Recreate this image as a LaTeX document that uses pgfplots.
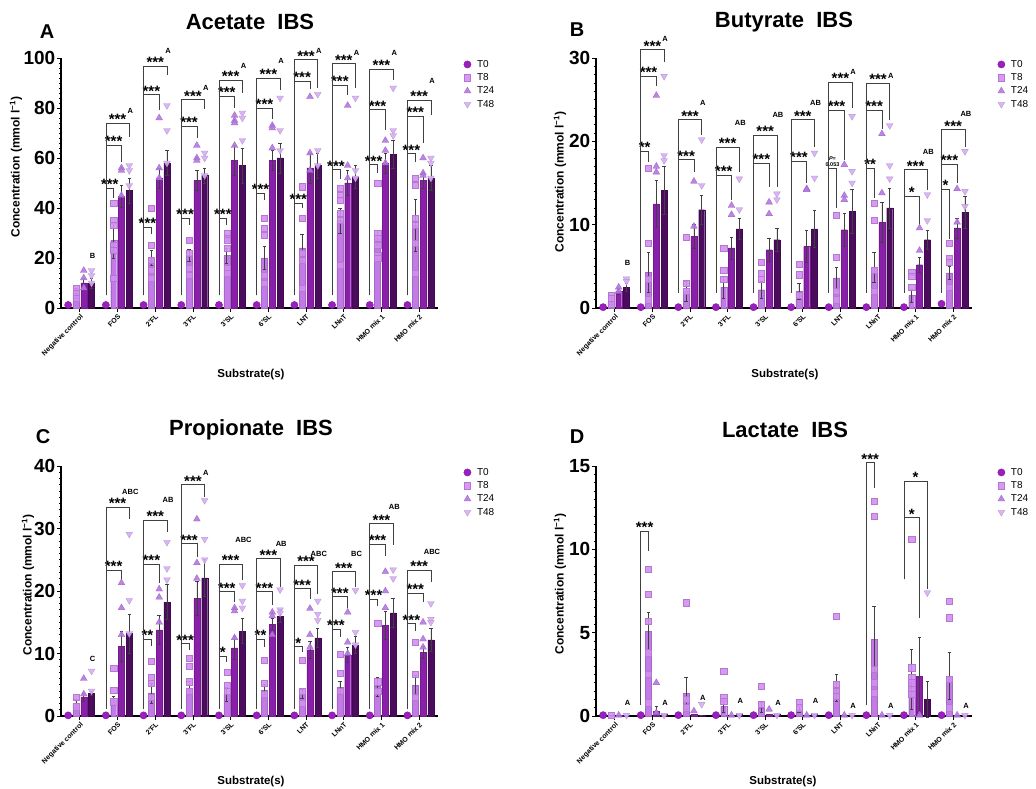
\documentclass[border=0pt]{standalone}
\usepackage{pgfplots}
\pgfplotsset{compat=1.18}
\usepackage{pgfplotstable}
\usepackage{fontspec}
\setmainfont{Liberation Sans}

\definecolor{cA}{HTML}{9C1EC0}
\definecolor{cB}{HTML}{C27AE6}
\definecolor{cC}{HTML}{8A1FAA}
\definecolor{cD}{HTML}{4C0C5E}
\definecolor{mB}{HTML}{D38EF2}
\definecolor{mC}{HTML}{B676E4}
\definecolor{mD}{HTML}{D6AEF4}

\pgfplotsset{
 panel/.style={
   scale only axis, height=250pt, anchor=south west,
   xmin=0, xmax=10, ymin=0, clip=false,
   axis x line=bottom, axis y line=left,
   x axis line style={-}, y axis line style={-},
   axis line style={line width=1.1pt, black},
   xtick={0.5,1.5,2.5,3.5,4.5,5.5,6.5,7.5,8.5,9.5},
   xticklabels={Negative control,FOS,2'FL,3'FL,3'SL,6'SL,LNT,LNnT,HMO mix 1,HMO mix 2},
   tick align=outside, major tick length=4pt, minor tick length=2pt,
   minor y tick num=9,
   every tick/.style={black, line width=0.8pt},
   x tick label style={rotate=45, anchor=north east, font=\fontsize{7}{8}\bfseries, inner sep=1pt},
   y tick label style={font=\fontsize{19}{19}\bfseries, inner sep=1.5pt},
   /pgf/number format/assume math mode=true,
   legend style={at={(1.068,1.0)}, anchor=north west, draw=none, fill=none,
     font=\fontsize{10}{10}\selectfont, row sep=0.8pt, inner sep=0pt,
     /tikz/every odd column/.append style={column sep=4pt}},
   legend cell align=left,
   legend image code/.code={\draw[##1] plot coordinates {(0.12cm,0cm)};},
 },
 barbase/.style={ybar, bar width=0.16, bar shift=0pt, line width=0.3pt,
   error bars/y dir=both, error bars/y explicit,
   error bars/error bar style={line width=0.6pt, black!75},
   error bars/error mark options={rotate=90, mark size=1.7pt, line width=0.6pt, black!75}},
 bar8/.style={barbase, fill=cB, draw=cB!85!black},
 bar24/.style={barbase, fill=cC, draw=cC!85!black},
 bar48/.style={barbase, fill=cD, draw=cD!85!black},
 p0/.style={only marks, mark=*, mark size=3.6pt, mark options={fill=cA, draw=cA!80!black, line width=0.4pt}},
 p8/.style={only marks, mark=square*, mark size=3.1pt, mark options={fill=mB, draw=mB!85!black, line width=0.3pt, fill opacity=0.9}},
 p24/.style={only marks, mark=triangle*, mark size=3.9pt, mark options={fill=mC, draw=mC!85!black, line width=0.3pt, fill opacity=0.9}},
 p48/.style={only marks, mark=triangle*, mark size=3.9pt, mark options={rotate=180, fill=mD, draw=mD!85!black, line width=0.3pt, fill opacity=0.9}},
}
\tikzset{
 brk/.style={draw=black!75, line width=0.6pt},
 star/.style={font=\fontsize{15}{15}\bfseries, anchor=base, yshift=-1.5pt, inner sep=0pt},
 lettr/.style={font=\fontsize{7.5}{7.5}\bfseries, inner sep=0pt},
}

\newcommand{\brk}[6]{%
  \pgfmathsetmacro{\xa}{#1+0.19}%
  \pgfmathsetmacro{\xb}{#1+0.19+0.207*#2}%
  \pgfmathsetmacro{\xm}{(\xa+\xb)/2}%
  \edef\temp{\noexpand\draw[brk] (axis cs:\xa,#5) -- (axis cs:\xa,#3) -- (axis cs:\xb,#3) -- (axis cs:\xb,#4);
    \noexpand\node[star] at (axis cs:\xm,#3) {\unexpanded{#6}};}%
  \temp}
\newcommand{\letr}[3]{%
  \pgfmathsetmacro{\xa}{#1+0.84}%
  \edef\temp{\noexpand\node[lettr] at (axis cs:\xa,#2) {#3};}%
  \temp}

% ---------- data ----------
\pgfplotstableread[row sep=\\]{k m8 e8 m24 e24 m48 e48\\
0 6 2 10 2 10 2\\ 1 27 7 44.7 4.5 47 5\\ 2 20 3 52 4 58 5\\ 3 21 2.5 51 4 53 3\\
4 21 3 59 6 57 7\\ 5 20 4.5 59 4 60 6\\ 6 24 5.5 56 6 57 5\\ 7 35 5 50 5 52.5 4.5\\
8 28 3 58 4 61.5 5.5\\ 9 33 10.5 51 3 52 5\\}\barsA
\pgfplotstableread[row sep=\\]{k v\\ 0 1.2\\ 1 1.2\\ 2 1.2\\ 3 1.2\\ 4 1.2\\ 5 1.2\\ 6 1.2\\ 7 1.2\\ 8 1.2\\ 9 1.2\\}\pzA
\pgfplotstableread[row sep=\\]{k v\\ 0 0.1\\ 1 0.1\\ 2 0.1\\ 3 0.1\\ 4 0.1\\ 5 0.1\\ 6 0.1\\ 7 0.1\\ 8 0.1\\ 9 0.5\\}\pzB
\pgfplotstableread[row sep=\\]{k v\\ 0 0.1\\ 1 0.1\\ 2 0.1\\ 3 0.1\\ 4 0.1\\ 5 0.1\\ 6 0.1\\ 7 0.1\\ 8 0.1\\ 9 0.1\\}\pzC
\pgfplotstableread[row sep=\\]{k v\\ 0 0.05\\ 1 0.05\\ 2 0.05\\ 3 0.05\\ 4 0.05\\ 5 0.05\\ 6 0.05\\ 7 0.05\\ 8 0.05\\ 9 0.05\\}\pzD
\pgfplotstableread[row sep=\\]{k v\\
0 8\\ 0 6\\ 0 4\\ 1 42\\ 1 35\\ 1 33\\ 1 25\\ 1 23\\ 1 12\\ 2 40\\ 2 25\\ 2 19\\ 2 15\\ 2 12\\
3 27\\ 3 27\\ 3 22\\ 3 16\\ 3 13\\ 4 30\\ 4 28\\ 4 27\\ 4 24\\ 4 16\\ 4 14\\ 5 36\\ 5 32\\ 5 29\\ 5 13\\ 5 10\\
6 48.5\\ 6 36\\ 6 22\\ 6 19\\ 6 8\\ 7 48\\ 7 45\\ 7 43\\ 7 38\\ 7 35\\ 7 17\\
8 50\\ 8 30\\ 8 28\\ 8 25\\ 8 21\\ 8 20\\ 9 52\\ 9 49\\ 9 36\\ 9 33\\ 9 26\\ 9 14\\}\pAe
\pgfplotstableread[row sep=\\]{k v\\
0 15\\ 0 12\\ 0 8\\ 1 56\\ 1 55\\ 1 45\\ 2 76\\ 2 56\\ 2 52\\ 3 65\\ 3 60\\ 3 59\\ 4 77\\ 4 75\\ 4 74\\ 4 65\\
5 73\\ 5 72\\ 5 64\\ 6 84.5\\ 6 62\\ 6 55\\ 7 81\\ 7 57\\ 7 52\\ 8 67\\ 8 63\\ 8 58\\ 9 60\\ 9 54\\ 9 53\\}\pAt
\pgfplotstableread[row sep=\\]{k v\\
0 15\\ 0 13\\ 0 10\\ 1 57\\ 1 55\\ 1 49\\ 2 81\\ 2 71\\ 2 58\\ 3 62\\ 3 60\\ 3 53\\ 4 78\\ 4 76\\ 4 67\\
5 84\\ 5 71\\ 5 63\\ 6 85.5\\ 6 63\\ 6 57\\ 7 84\\ 7 55\\ 7 52\\ 8 88\\ 8 71\\ 8 69\\ 9 60\\ 9 58\\ 9 52\\}\pAf

\pgfplotstableread[row sep=\\]{k m8 e8 m24 e24 m48 e48\\
0 0.8 0.4 2 0.3 2.5 0.5\\ 1 4.3 2.4 12.5 2.8 14.1 2.9\\ 2 2 1.2 8.6 1.4 11.8 1.7\\ 3 2.5 1.3 7.2 1.3 9.5 1.3\\
4 2.2 1 7 1.4 8.2 1.4\\ 5 2 1 7.4 1.9 9.5 2.2\\ 6 3.6 1.3 9.4 2 11.6 2.6\\ 7 4.9 1.8 10.3 2.4 12 2.4\\
8 1.5 0.8 5.2 0.9 8.2 1.1\\ 9 4.2 0.8 9.6 1.2 11.5 1.9\\}\barsB
\pgfplotstableread[row sep=\\]{k v\\
0 1.5\\ 0 1.2\\ 0 0.5\\ 1 16.8\\ 1 7.8\\ 1 3.5\\ 1 1\\ 2 8.5\\ 2 3\\ 2 2\\ 3 7.2\\ 3 4.5\\ 3 3.5\\
4 5.5\\ 4 4.2\\ 4 3.5\\ 5 5.3\\ 5 4\\ 5 1.5\\ 6 11.1\\ 6 6.1\\ 6 2\\ 6 1\\ 7 12.6\\ 7 10.5\\ 7 4.5\\ 7 2\\
8 4.3\\ 8 3.8\\ 8 2.5\\ 9 7.8\\ 9 6\\ 9 5.5\\ 9 2.5\\}\pBe
\pgfplotstableread[row sep=\\]{k v\\
0 2.5\\ 0 2\\ 1 25.5\\ 1 17\\ 1 16.3\\ 2 15.2\\ 2 9.8\\ 3 12.3\\ 3 11.2\\ 4 12.7\\ 4 11.3\\ 5 14.3\\ 5 14.2\\
6 17.2\\ 6 13.5\\ 6 13\\ 7 20.9\\ 7 13.8\\ 8 9.6\\ 8 6.9\\ 9 14.3\\ 9 10.3\\}\pBt
\pgfplotstableread[row sep=\\]{k v\\
0 3.5\\ 0 3.2\\ 1 27.8\\ 1 18.3\\ 1 17.7\\ 2 20.2\\ 2 14.7\\ 3 15.5\\ 3 11.8\\ 4 13.7\\ 4 13\\ 5 18.6\\ 5 15.6\\
6 23\\ 6 16.4\\ 6 15\\ 7 21.9\\ 7 17.1\\ 7 15.5\\ 8 13.6\\ 8 10.5\\ 9 18.8\\ 9 14\\ 9 12.2\\}\pBf

\pgfplotstableread[row sep=\\]{k m8 e8 m24 e24 m48 e48\\
0 2 0.7 3 0.6 3.6 0.3\\ 1 2.5 0.6 11.1 2.4 13.2 3.1\\ 2 3.7 1.6 13.8 2.3 18.2 2.8\\ 3 4.5 1 18.8 2.7 22.1 2.9\\
4 3.5 1.1 10.9 1.9 13.6 2\\ 5 4.2 0.8 14.7 1 16 1\\ 6 3.5 0.7 10.6 1.4 12.5 1.5\\ 7 4.6 0.9 9.8 1.2 11.4 1.4\\
8 4.7 1.5 14.5 2.3 16.5 2.3\\ 9 4.9 1.6 10.2 1 12.2 1.8\\}\barsC
\pgfplotstableread[row sep=\\]{k v\\
0 3\\ 0 1.5\\ 1 7.6\\ 1 4.2\\ 1 2.3\\ 2 8.8\\ 2 6.2\\ 2 5.3\\ 2 3\\ 3 9.2\\ 3 8\\ 3 5.5\\ 3 4\\ 4 7\\ 4 5\\ 4 4\\
5 8.9\\ 5 5.2\\ 5 3.5\\ 6 8.9\\ 6 4\\ 6 2\\ 7 9.9\\ 7 6.8\\ 7 4\\ 8 14.8\\ 8 5.5\\ 8 4\\ 9 11.8\\ 9 6.7\\ 9 3\\}\pCe
\pgfplotstableread[row sep=\\]{k v\\
0 6\\ 0 3.5\\ 1 21.3\\ 1 17.3\\ 1 13\\ 2 20.3\\ 2 19\\ 2 15\\ 3 31.5\\ 3 24.5\\ 3 22\\ 4 17.3\\ 4 16.8\\ 4 12.5\\
5 16.6\\ 5 16\\ 5 13\\ 6 17.2\\ 6 13\\ 6 11\\ 7 16.6\\ 7 11.8\\ 7 10\\ 8 23.1\\ 8 20\\ 8 17.3\\ 9 15\\ 9 12.3\\ 9 11\\}\pCt
\pgfplotstableread[row sep=\\]{k v\\
0 7.2\\ 0 4\\ 1 29.1\\ 1 18.5\\ 1 13.2\\ 2 27.8\\ 2 23.6\\ 2 21.8\\ 3 34.5\\ 3 28.3\\ 3 25\\ 4 20.9\\ 4 18.4\\ 4 17.3\\
5 20.2\\ 5 17\\ 5 16.5\\ 6 18.4\\ 6 16.3\\ 6 15.3\\ 7 20.1\\ 7 13.4\\ 7 11.4\\ 8 23.4\\ 8 22\\ 9 18\\ 9 15.5\\ 9 15\\}\pCf

\pgfplotstableread[row sep=\\]{k m8 e8 m24 e24 m48 e48\\
0 0.05 0 0.05 0 0.05 0\\ 1 5.1 1.1 0.3 0.3 0.1 0\\ 2 1.35 0.95 0.1 0 0.05 0\\ 3 0.6 0.4 0.02 0 0.1 0\\
4 0.5 0.3 0.1 0 0.1 0\\ 5 0.4 0.2 0.02 0 0.1 0\\ 6 1.7 0.8 0.02 0 0.02 0\\ 7 4.6 2 0.02 0 0.05 0\\
8 2.2 1.8 2.4 2.35 1 1.1\\ 9 2.4 1.4 0.02 0 0.05 0\\}\barsD
\pgfplotstableread[row sep=\\]{k v\\
0 0.05\\ 1 8.8\\ 1 7.3\\ 1 5.7\\ 1 3.8\\ 1 2.5\\ 1 0.8\\ 2 6.8\\ 2 1\\ 2 0.5\\ 3 2.7\\ 3 1.1\\ 3 0.9\\
4 1.8\\ 4 0.7\\ 5 0.8\\ 5 0.5\\ 6 6\\ 6 1.9\\ 6 1.5\\ 6 1.2\\ 7 12.9\\ 7 12\\ 7 2.8\\ 7 2\\ 7 1.4\\
8 10.6\\ 8 2.9\\ 8 2.3\\ 8 2\\ 8 1.6\\ 8 1.3\\ 9 6.9\\ 9 5.9\\ 9 2.2\\ 9 0.5\\}\pDe
\pgfplotstableread[row sep=\\]{k v\\
0 0.05\\ 1 2\\ 1 0.2\\ 2 0.3\\ 3 0.05\\ 4 0.4\\ 5 0.05\\ 6 0.05\\ 7 0.05\\ 8 0.05\\ 9 0.05\\}\pDt
\pgfplotstableread[row sep=\\]{k v\\
0 0.05\\ 1 0.05\\ 2 0.7\\ 3 0.05\\ 4 0.05\\ 5 0.05\\ 6 0.05\\ 7 0.05\\ 8 7.4\\ 9 0.05\\}\pDf

\newcommand{\drawall}[5]{%
  \addplot[bar8, forget plot] table[x expr=\thisrow{k}+0.397, y=m8, y error=e8]{#1};
  \addplot[bar24, forget plot] table[x expr=\thisrow{k}+0.604, y=m24, y error=e24]{#1};
  \addplot[bar48, forget plot] table[x expr=\thisrow{k}+0.811, y=m48, y error=e48]{#1};
  \addplot[p0] table[x expr=\thisrow{k}+0.19, y=v]{#2}; \addlegendentry{T0}
  \addplot[p8] table[x expr=\thisrow{k}+0.397, y=v]{#3}; \addlegendentry{T8}
  \addplot[p24] table[x expr=\thisrow{k}+0.604, y=v]{#4}; \addlegendentry{T24}
  \addplot[p48] table[x expr=\thisrow{k}+0.811, y=v]{#5}; \addlegendentry{T48}
}

\begin{document}
\begin{tikzpicture}
\useasboundingbox[fill=white] (0,0) rectangle (1036pt,788pt);

% ---------------- A ----------------
\begin{axis}[panel, at={(61pt,480pt)}, width=377pt, ymax=100, ytick={0,20,40,60,80,100}]
\drawall{\barsA}{\pzA}{\pAe}{\pAt}{\pAf}
\brk{1}{1}{48}{44}{5}{***}\brk{1}{2}{65}{58.5}{5}{***}\brk{1}{3}{74}{68.5}{5}{***}
\brk{2}{1}{32.3}{29.5}{5}{***}\brk{2}{2}{85.3}{79}{5}{***}\brk{2}{3}{96.7}{93}{5}{***}
\brk{3}{1}{36}{33}{5}{***}\brk{3}{2}{72.7}{68}{5}{***}\brk{3}{3}{83.3}{79.5}{5}{***}
\brk{4}{1}{36}{33}{5}{***}\brk{4}{2}{84.7}{80}{5}{***}\brk{4}{3}{91}{86}{5}{***}
\brk{5}{1}{46}{43}{5}{***}\brk{5}{2}{80}{75.5}{5}{***}\brk{5}{3}{92}{87}{5}{***}
\brk{6}{1}{42}{40}{5}{***}\brk{6}{2}{90.7}{87.5}{5}{***}\brk{6}{3}{99.3}{88}{5}{***}
\brk{7}{1}{55.3}{51.5}{5}{***}\brk{7}{2}{89}{85}{5}{***}\brk{7}{3}{97.7}{88}{5}{***}
\brk{8}{1}{57.3}{54}{5}{***}\brk{8}{2}{79.3}{71}{5}{***}\brk{8}{3}{95.6}{91}{5}{***}
\brk{9}{1}{61.7}{58.5}{5}{***}\brk{9}{2}{76.7}{66}{5}{***}\brk{9}{3}{83}{77}{5}{***}
\letr{0}{20.7}{B}\letr{1}{79}{A}\letr{2}{103}{A}\letr{3}{88}{A}\letr{4}{97}{A}
\letr{5}{98.7}{A}\letr{6}{103}{A}\letr{7}{102}{A}\letr{8}{102}{A}\letr{9}{91}{A}
\end{axis}

% ---------------- B ----------------
\begin{axis}[panel, at={(596pt,480pt)}, width=376pt, ymax=30, ytick={0,10,20,30}]
\drawall{\barsB}{\pzB}{\pBe}{\pBt}{\pBf}
\brk{1}{1}{18.8}{17.5}{1.8}{**}\brk{1}{2}{27.8}{26.6}{1.8}{***}\brk{1}{3}{31}{29.5}{1.8}{***}
\brk{2}{2}{17.8}{16.3}{1.8}{***}\brk{2}{3}{22.6}{20.8}{1.8}{***}
\brk{3}{2}{15.9}{13}{1.8}{***}\brk{3}{3}{19.3}{16.3}{1.8}{***}
\brk{4}{2}{17.4}{14.5}{1.8}{***}\brk{4}{3}{20.7}{14.5}{1.8}{***}
\brk{5}{2}{17.6}{15}{1.8}{***}\brk{5}{3}{22.6}{19.3}{1.8}{***}
\brk{6}{1}{16.8}{12}{1.8}{}\brk{6}{2}{23.7}{17.8}{1.8}{***}\brk{6}{3}{27.1}{24}{1.8}{***}
\brk{7}{1}{16.8}{13.2}{1.8}{**}\brk{7}{2}{23.7}{21.5}{1.8}{***}\brk{7}{3}{27}{22.5}{1.8}{***}
\brk{8}{2}{13.4}{10}{1.8}{*}\brk{8}{3}{16.6}{14.2}{1.8}{***}
\brk{9}{1}{14.3}{8.3}{1.8}{*}\brk{9}{2}{17.3}{15}{1.8}{***}\brk{9}{3}{21.4}{19.3}{1.8}{***}
\node[font=\fontsize{5.5}{6}\bfseries, align=center, anchor=south, inner sep=0.5pt] at (axis cs:6.29,16.9) {\textit{P}=\\0.053};
\letr{0}{5.4}{B}\letr{1}{32.3}{A}\letr{2}{24.6}{A}\letr{3}{22.2}{AB}\letr{4}{23.2}{AB}
\letr{5}{24.6}{AB}\letr{6}{28.3}{A}\letr{7}{27.8}{A}\letr{8}{18.7}{AB}\letr{9}{23.3}{AB}
\end{axis}

% ---------------- C ----------------
\begin{axis}[panel, at={(61pt,72pt)}, width=377pt, ymax=40, ytick={0,10,20,30,40}]
\drawall{\barsC}{\pzC}{\pCe}{\pCt}{\pCf}
\brk{1}{2}{23.3}{21.8}{1.2}{***}\brk{1}{3}{33.4}{31.6}{1.2}{***}
\brk{2}{1}{12.3}{11.2}{1.2}{**}\brk{2}{2}{24.3}{21.3}{1.2}{***}\brk{2}{3}{31.3}{29.5}{1.2}{***}
\brk{3}{1}{11.6}{10.6}{1.2}{***}\brk{3}{2}{27.6}{25.5}{1.2}{***}\brk{3}{3}{37}{35}{1.2}{***}
\brk{4}{1}{9.6}{8.6}{1.2}{*}\brk{4}{2}{19.9}{18.3}{1.2}{***}\brk{4}{3}{24.3}{21.8}{1.2}{***}
\brk{5}{1}{12.3}{11}{1.2}{**}\brk{5}{2}{19.9}{17.8}{1.2}{***}\brk{5}{3}{25.2}{20.7}{1.2}{***}
\brk{6}{1}{11.1}{10.3}{1.2}{*}\brk{6}{2}{20.4}{18.8}{1.2}{***}\brk{6}{3}{24.1}{19.6}{1.2}{***}
\brk{7}{1}{13.9}{12.6}{1.2}{***}\brk{7}{2}{19.1}{17.3}{1.2}{***}\brk{7}{3}{23.1}{20.7}{1.2}{***}
\brk{8}{1}{18.7}{17.6}{1.2}{***}\brk{8}{2}{27.5}{25.6}{1.2}{***}\brk{8}{3}{30.8}{27.3}{1.2}{***}
\brk{9}{1}{14.8}{13.6}{1.2}{***}\brk{9}{2}{19.7}{18.3}{1.2}{***}\brk{9}{3}{23.3}{21.4}{1.2}{***}
\letr{0}{9.2}{C}\letr{1}{35.8}{ABC}\letr{2}{34.5}{AB}\letr{3}{38.9}{A}\letr{4}{28.2}{ABC}
\letr{5}{27.5}{AB}\letr{6}{26}{ABC}\letr{7}{26}{BC}\letr{8}{33.5}{AB}\letr{9}{26.3}{ABC}
\end{axis}

% ---------------- D ----------------
\begin{axis}[panel, at={(596pt,72pt)}, width=376pt, ymax=15, ytick={0,5,10,15}]
\drawall{\barsD}{\pzD}{\pDe}{\pDt}{\pDf}
\brk{1}{1}{11.1}{9.9}{0.66}{***}
\brk{7}{1}{15.2}{13.7}{0.66}{***}
\brk{8}{2}{11.9}{5.9}{8.2}{*}\brk{8}{3}{14.1}{7.6}{8.2}{*}
\letr{0}{0.76}{A}\letr{1}{0.76}{A}\letr{2}{1.06}{A}\letr{3}{0.9}{A}\letr{4}{0.76}{A}
\letr{5}{0.9}{A}\letr{6}{0.6}{A}\letr{7}{0.6}{A}\letr{9}{0.6}{A}
\end{axis}

% ---------------- texts ----------------
\node[font=\fontsize{22}{22}\bfseries] at (250pt,766pt) {Acetate\ \ IBS};
\node[font=\fontsize{22}{22}\bfseries] at (784pt,766pt) {Butyrate\ \ IBS};
\node[font=\fontsize{22}{22}\bfseries] at (251pt,358pt) {Propionate\ \ IBS};
\node[font=\fontsize{22}{22}\bfseries] at (785pt,358pt) {Lactate\ \ IBS};
\node[font=\fontsize{20}{20}\bfseries] at (47pt,756pt) {A};
\node[font=\fontsize{20}{20}\bfseries] at (577pt,758pt) {B};
\node[font=\fontsize{20}{20}\bfseries] at (43pt,351pt) {C};
\node[font=\fontsize{20}{20}\bfseries] at (577pt,351pt) {D};
\node[rotate=90, font=\fontsize{12}{12}\bfseries] at (16pt,621pt) {Concentration (mmol l\textsuperscript{−1})};
\node[rotate=90, font=\fontsize{12}{12}\bfseries] at (560pt,606pt) {Concentration (mmol l\textsuperscript{−1})};
\node[rotate=90, font=\fontsize{12}{12}\bfseries] at (28pt,203pt) {Concentration (mmol l\textsuperscript{−1})};
\node[rotate=90, font=\fontsize{12}{12}\bfseries] at (560pt,204pt) {Concentration (mmol l\textsuperscript{−1})};
\node[font=\fontsize{11.5}{11.5}\bfseries] at (251pt,413pt) {Substrate(s)};
\node[font=\fontsize{11.5}{11.5}\bfseries] at (785pt,413pt) {Substrate(s)};
\node[font=\fontsize{11.5}{11.5}\bfseries] at (251pt,6pt) {Substrate(s)};
\node[font=\fontsize{11.5}{11.5}\bfseries] at (783pt,6pt) {Substrate(s)};
\end{tikzpicture}
\end{document}
